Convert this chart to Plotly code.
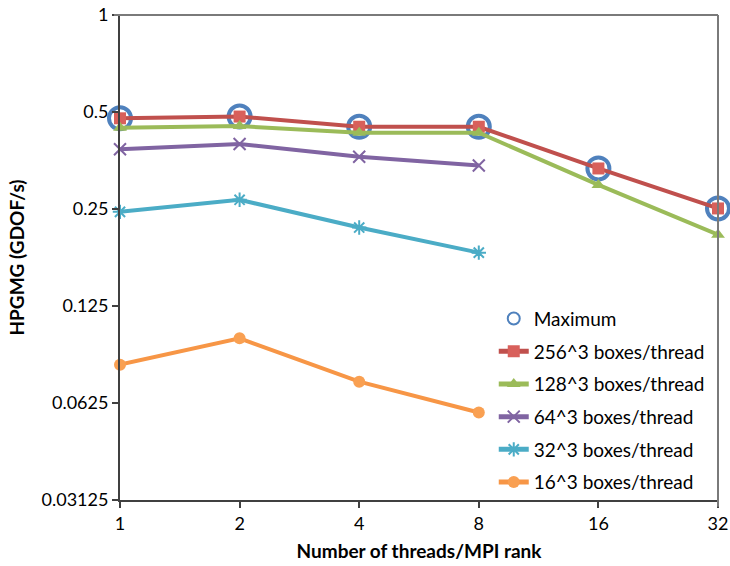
import plotly.graph_objects as go

# Threads per MPI rank
threads = [1, 2, 4, 8, 16, 32]

# HPGMG throughput (GDOF/s) per box size
maximum = [0.478, 0.484, 0.450, 0.450, 0.334, 0.251]
boxes_256 = [0.478, 0.484, 0.450, 0.450, 0.334, 0.251]
boxes_128 = [0.447, 0.452, 0.431, 0.431, 0.297, 0.208]
boxes_64 = [0.383, 0.398, 0.363, 0.341]
boxes_32 = [0.245, 0.267, 0.219, 0.183]
boxes_16 = [0.0822, 0.0992, 0.0728, 0.0584]

y_ticks = [0.03125, 0.0625, 0.125, 0.25, 0.5, 1]
y_tick_text = ["0.03125", "0.0625", "0.125", "0.25", "0.5", "1"]

FONT = "Lato, 'Open Sans', sans-serif"

fig = go.Figure()

fig.add_trace(go.Scatter(
    x=threads, y=maximum, name="Maximum", mode="markers",
    legendgroup="max", cliponaxis=False,
    marker=dict(symbol="circle-open", size=22, color="#4F81BD",
                line=dict(width=4, color="#4F81BD")),
))

series = [
    ("256^3 boxes/thread", boxes_256, "#C0504D", "square", "#D8605B", 12),
    ("128^3 boxes/thread", boxes_128, "#9BBB59", "triangle-up", "#9BBB59", 12),
    ("64^3 boxes/thread", boxes_64, "#8064A2", "x-thin-open", "#8064A2", 12),
    ("32^3 boxes/thread", boxes_32, "#4BACC6", "asterisk-open", "#4BACC6", 12),
    ("16^3 boxes/thread", boxes_16, "#F79646", "circle", "#F9A052", 12),
]

for name, vals, color, symbol, fill, size in series:
    fig.add_trace(go.Scatter(
        x=threads[:len(vals)], y=vals, name=name, mode="lines+markers",
        legendgroup=name, cliponaxis=False,
        line=dict(color=color, width=4),
        marker=dict(symbol=symbol, size=size, color=fill,
                    line=dict(width=2 if "open" in symbol else 0, color=color)),
    ))

# Gray frame on top and right of the plot area
fig.add_shape(type="line", xref="paper", yref="paper", x0=-0.01, x1=1, y0=1, y1=1,
              line=dict(color="#7A7A7A", width=2))
fig.add_shape(type="line", xref="paper", yref="paper", x0=1, x1=1, y0=-0.014, y1=1,
              line=dict(color="#7A7A7A", width=2))

fig.update_layout(
    width=730, height=566,
    margin=dict(l=120, r=12, t=15, b=66),
    paper_bgcolor="white", plot_bgcolor="white",
    font=dict(family=FONT, size=17, color="#000000"),
    showlegend=True,
    legend=dict(
        x=0.625, y=0.413, xanchor="left", yanchor="top",
        bgcolor="rgba(255,255,255,0)", borderwidth=0,
        font=dict(family=FONT, size=19),
        tracegroupgap=5, itemsizing="constant", itemwidth=30,
    ),
    xaxis=dict(
        type="log", range=[0, 1.50515], automargin=False,
        tickvals=threads, ticktext=[str(t) for t in threads],
        showgrid=False, zeroline=False,
        showline=True, linecolor="#404040", linewidth=2,
        ticks="outside", ticklen=6, tickwidth=2, tickcolor="#404040",
        tickfont=dict(family=FONT, size=18),
        title=dict(text="<b>Number of threads/MPI rank</b>",
                   font=dict(family=FONT, size=19), standoff=12),
    ),
    yaxis=dict(
        type="log", range=[-1.50515, 0], automargin=False,
        tickvals=y_ticks, ticktext=y_tick_text,
        showgrid=False, zeroline=False,
        showline=True, linecolor="#404040", linewidth=2,
        ticks="outside", ticklen=6, tickwidth=2, tickcolor="#404040",
        tickfont=dict(family=FONT, size=18),
        title=dict(text="<b>HPGMG (GDOF/s)</b>",
                   font=dict(family=FONT, size=19), standoff=12),
    ),
)

fig.write_html("out.html")
